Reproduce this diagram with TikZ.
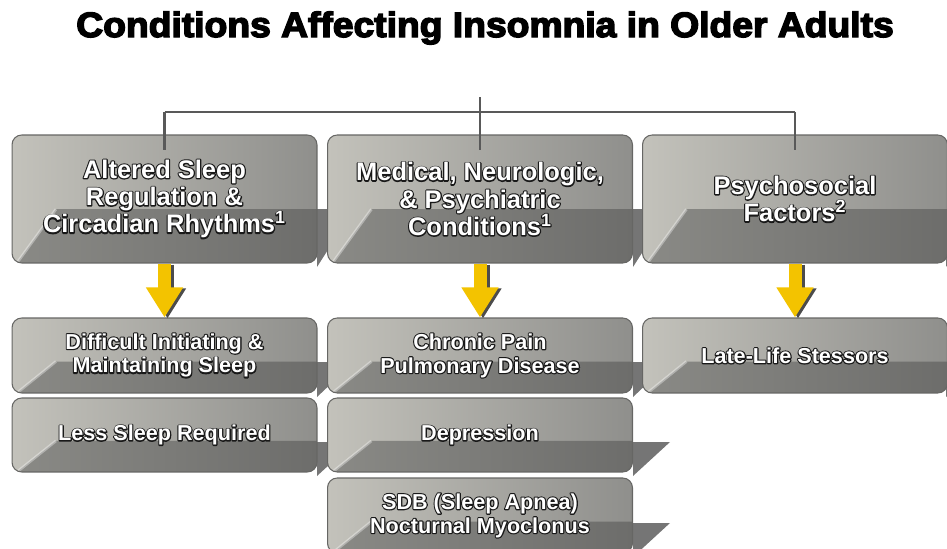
\documentclass[tikz,border=0pt]{standalone}
\usepackage{fontspec}
\setmainfont{Liberation Sans}
\newfontfamily\titlefont{Liberation Sans Bold}[FakeBold=4]
\usetikzlibrary{arrows.meta,calc}
% white letters with a dark rim: a stroked copy behind, the filled text on top
\newcommand{\rim}[1]{\rlap{\special{pdf:literal direct q 1 Tr 1.3 w 0.1 0.1 0.1 RG 1 j}#1\special{pdf:literal direct Q}}#1}

\definecolor{panelLight}{HTML}{C3C2BB}
\definecolor{panelDark}{HTML}{8F8F8C}
\definecolor{bandLight}{HTML}{8A8A86}
\definecolor{bandDark}{HTML}{6D6D6B}
\definecolor{edgeGray}{HTML}{666664}
\definecolor{shadowGray}{HTML}{757575}
\definecolor{railGray}{HTML}{595959}
\definecolor{arrowGold}{HTML}{F3C300}

\tikzset{
  panel/.style={rounded corners=5.5pt,left color=panelLight,right color=panelDark,
    draw=edgeGray,line width=0.6pt,inner sep=0pt,align=center,text=white,
    minimum width=6.1cm,
    path picture={
      \shade[sharp corners,left color=bandLight,right color=bandDark]
        let \p1=(path picture bounding box.south west),\p2=(path picture bounding box.north east)
        in (\x1+2.8pt,\y1) -- (\x1+25pt,{\y1+0.42*(\y2-\y1)}) -- (\x2,{\y1+0.42*(\y2-\y1)}) -- (\x2,\y1) -- cycle;
      \draw[sharp corners,white,opacity=0.35,line width=1.6pt]
        let \p1=(path picture bounding box.south west),\p2=(path picture bounding box.north east)
        in (\x1+2.8pt,\y1) -- (\x1+25pt,{\y1+0.42*(\y2-\y1)});
    }},
  headbox/.style={panel,minimum height=2.56cm,font=\bfseries\fontsize{14.5}{15.6}\selectfont},
  itembox/.style={panel,minimum height=1.5cm,font=\bfseries\fontsize{12.3}{13.6}\selectfont},
  castshadow/.style={fill=shadowGray},
  rail/.style={draw=railGray,line width=1.3pt},
  goldarrow/.style={draw=arrowGold,line width=0.26cm,-{Triangle[width=0.7cm,length=0.6cm,fill=arrowGold]}},
  goldshadow/.style={draw=black!70,line width=0.26cm,-{Triangle[width=0.7cm,length=0.6cm,fill=black!70]}}
}

\begin{document}
\begin{tikzpicture}[x=0.02cm,y=-0.02cm]
\useasboundingbox (0,0) rectangle (947,548);

% title
\node[anchor=base,font=\titlefont\fontsize{20}{22}\selectfont] (title) at (485,37)
  {\scalebox{1.06}[1]{Conditions Affecting Insomnia in Older Adults}};

% cast shadows behind the panels
\fill[castshadow] (317,209) -- (354,209) -- (317,267) -- cycle;
\fill[castshadow] (633,209) -- (670,209) -- (633,267) -- cycle;
\fill[castshadow] (946,209) -- (983,209) -- (946,267) -- cycle;
\fill[castshadow] (317,362) -- (354,362) -- (317,397) -- cycle;
\fill[castshadow] (633,362) -- (670,362) -- (633,397) -- cycle;
\fill[castshadow] (946,362) -- (983,362) -- (946,397) -- cycle;
\fill[castshadow] (317,442) -- (354,442) -- (317,476) -- cycle;
\fill[castshadow] (633,442) -- (670,442) -- (633,476) -- cycle;
\fill[castshadow] (633,523) -- (670,523) -- (633,557) -- cycle;

% top row
\node[headbox] (b1) at (164.5,199) {\rim{Altered Sleep}\\\rim{Regulation \&}\\\rim{Circadian Rhythms\textsuperscript{1}}};
\node[headbox] (b2) at (480,199) {\rim{Medical, Neurologic,}\\\rim{\& Psychiatric}\\\rim{Conditions\textsuperscript{1}}};
\node[headbox] (b3) at (795,199) {\rim{Psychosocial}\\\rim{Factors\textsuperscript{2}}};

% lower rows
\node[itembox] (r1) at (164.5,355.5) {\rim{Difficult Initiating \&}\\\rim{Maintaining Sleep}};
\node[itembox] (r2) at (480,355.5) {\rim{Chronic Pain}\\\rim{Pulmonary Disease}};
\node[itembox] (r3) at (795,355.5) {\rim{Late-Life Stessors}};
\node[itembox,minimum height=1.48cm] (s1) at (164.5,435) {\rim{Less Sleep Required}};
\node[itembox,minimum height=1.48cm] (s2) at (480,435) {\rim{Depression}};
\node[itembox] (t2) at (480,515.5) {\rim{SDB (Sleep Apnea)}\\\rim{Nocturnal Myoclonus}};

% connector rail
\coordinate (top) at (482,97);
\coordinate (rail) at (0,112);
\draw[rail] (b1.north |- rail) -- (b3.north |- rail);
\draw[rail] (b2.north |- top) -- (b2.north |- rail);
\foreach \b in {b1,b2,b3}
  \draw[rail] (\b.north |- rail) -- ([yshift=-9pt]\b.north);

% yellow arrows
\foreach \a/\z in {b1/r1,b2/r2,b3/r3}{
  \draw[goldshadow] ([shift={(3,1)}]\a.south) -- ([shift={(3,1)}]\z.north);
  \draw[goldarrow] (\a.south) -- (\z.north);
}
\end{tikzpicture}
\end{document}
